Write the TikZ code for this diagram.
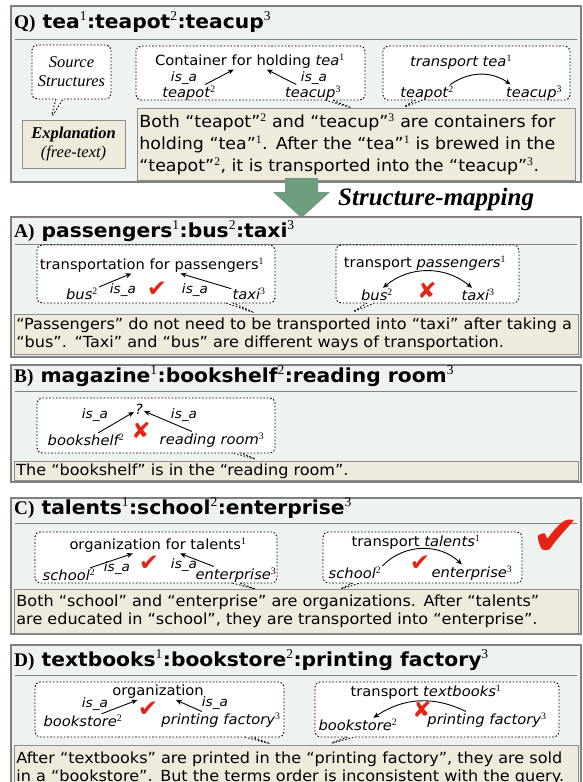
\documentclass[tikz,border=0pt]{standalone}
\usepackage{fontspec}
\setmainfont{DejaVu Sans}[FakeStretch=1.05]
\newfontfamily\serif{Liberation Serif}
\usepackage{tikz}
\usetikzlibrary{arrows.meta, shapes.callouts}
\definecolor{panelBg}{RGB}{239,243,239}
\definecolor{boxBg}{RGB}{238,234,220}
\definecolor{lineGray}{RGB}{128,128,128}
\definecolor{mapGreen}{RGB}{110,158,126}
\definecolor{markRed}{RGB}{232,35,22}
\newcommand{\sy}[1]{\textsuperscript{\serif\mdseries\upshape #1}}
\newcommand{\isa}{is\_a}
\tikzset{
  panel/.style={draw=lineGray, line width=1.3pt, fill=panelBg},
  sepline/.style={draw=lineGray, line width=0.9pt},
  title/.style={anchor=base west, inner sep=0pt, font=\fontsize{19.3}{22}\selectfont\bfseries},
  bubble/.style={rectangle callout, draw, dash pattern=on 1.6pt off 1.8pt, line width=0.9pt, rounded corners=5pt, fill=white, callout pointer width=7pt},
  expbox/.style={draw=lineGray!90, line width=0.8pt, fill=boxBg, anchor=north west, align=left, inner xsep=2pt, inner ysep=2pt, text width=560pt, font=\fontsize{15.3}{17.5}\selectfont},
  term/.style={inner sep=1pt, font=\fontsize{14}{16}\selectfont\itshape},
  concept/.style={inner sep=1pt, font=\fontsize{14}{16}\selectfont},
  isa/.style={inner sep=0pt, font=\fontsize{13}{15}\selectfont\itshape},
  rel/.style={-{Stealth[length=6pt,width=5pt]}, line width=0.9pt},
  okmark/.style={text=markRed, inner sep=0pt, font=\fontsize{23}{23}\selectfont},
  nomark/.style={text=markRed, inner sep=0pt, font=\fontsize{22}{22}\selectfont}
}

\begin{document}
\begin{tikzpicture}[x=1pt, y=-1pt]
\useasboundingbox (0,0) rectangle (583,782);

\path[panel] (11,6) rectangle (581,182);
\node[title] (qT) at (14,28) {{\serif Q)} tea\sy1:teapot\sy2:teacup\sy3};
\draw[sepline] (15,39) -- (577,39);
\node[bubble, minimum width=79pt, minimum height=54pt, callout absolute pointer={(51,118)}, align=center, font=\serif\itshape\fontsize{16.5}{19}\selectfont] (src) at (71.5,72) {Source\\Structures};
\node[draw=lineGray!90, line width=0.8pt, fill=boxBg, minimum width=103pt, minimum height=48pt, align=center, font=\serif\itshape\fontsize{16.5}{19}\selectfont] (expl) at (73.5,144) {\textbf{Explanation}\\(free-text)};
\node[bubble, minimum width=229pt, minimum height=54pt, callout absolute pointer={(352,108)}] (qB1) at (250.5,73) {};
\node[concept] (qC) at (250,61) {Container for holding \textit{tea}\sy1};
\node[term] (qTp) at (189,93) {teapot\sy2};
\node[term] (qTc) at (313,93) {teacup\sy3};
\node[isa] (qI1) at (184,78) {\isa};
\node[isa] (qI2) at (314,78) {\isa};
\draw[rel] (qTp) -- (qC);
\draw[rel] (qTc) -- (qC);
\node[bubble, minimum width=187pt, minimum height=54pt, callout absolute pointer={(402,108)}] (qB2) at (476.5,73) {};
\node[concept, font=\fontsize{14}{16}\selectfont\itshape] (qTr) at (461,62) {transport tea\sy1};
\node[term] (qTp2) at (427,93) {teapot\sy2};
\node[term] (qTc2) at (534,93) {teacup\sy3};
\draw[rel] (qTp2.20) to[bend left=35] (qTc2.160);
\node[expbox, text width=434pt, font=\fontsize{16.6}{22}\selectfont, minimum height=72pt] (qE) at (137,108) {Both “teapot”\sy2 and “teacup”\sy3 are containers for\\holding “tea”\sy1. After the “tea”\sy1 is brewed in the\\“teapot”\sy2, it is transported into the “teacup”\sy3.};

\fill[mapGreen] (285,178) -- (318,178) -- (318,192) -- (330,192) -- (301.5,218) -- (273,192) -- (285,192) -- cycle;
\node[anchor=west, inner sep=0pt, font=\serif\bfseries\itshape\fontsize{25}{28}\selectfont] (smap) at (338,199) {Structure-mapping};

\path[panel] (11,217) rectangle (581,357);
\node[title] (aT) at (14,237) {{\serif A)} passengers\sy1:bus\sy2:taxi\sy3};
\draw[sepline] (15,244) -- (577,244);
\node[bubble, minimum width=238pt, minimum height=58pt, callout absolute pointer={(255,313)}] (aB1) at (156,274) {};
\node[concept] (aC) at (152,265) {transportation for passengers\sy1};
\node[term] (aB) at (82,294) {bus\sy2};
\node[term] (aX) at (249,294) {taxi\sy3};
\node[isa] (aI1) at (123,290) {\isa};
\node[isa] (aI2) at (195,290) {\isa};
\node[okmark] (aOk) at (157,289) {✔};
\draw[rel] (aB) -- (aC);
\draw[rel] (aX) -- (aC);
\node[bubble, minimum width=183pt, minimum height=58pt, callout absolute pointer={(351,313)}] (aB2) at (427.5,274) {};
\node[concept] (aTr) at (425,263) {transport \textit{passengers}\sy1};
\node[term] (aBs) at (377,295) {bus\sy2};
\node[term] (aTx) at (478,295) {taxi\sy3};
\draw[{Stealth[length=6pt,width=5pt]}-{Stealth[length=6pt,width=5pt]}, line width=0.9pt] (aBs.50) to[bend left=40] (aTx.130);
\node[nomark] (aNo) at (427,290) {✘};
\node[expbox, minimum height=40pt] (aE) at (14,314) {“Passengers” do not need to be transported into “taxi” after taking a\\“bus”. “Taxi” and “bus” are different ways of transportation.};

\path[panel] (11,365) rectangle (581,482);
\node[title] (bT) at (14,382) {{\serif B)} magazine\sy1:bookshelf\sy2:reading room\sy3};
\draw[sepline] (15,391) -- (577,391);
\node[bubble, minimum width=238pt, minimum height=55pt, callout absolute pointer={(258,460)}] (bB1) at (156,425.5) {};
\node[concept, font=\fontsize{14}{16}\selectfont\itshape] (bQ) at (139,409) {?};
\node[term] (bBs) at (86,440) {bookshelf\sy2};
\node[term] (bRr) at (212,440) {reading room\sy3};
\node[isa] (bI1) at (95,415) {\isa};
\node[isa] (bI2) at (184,415) {\isa};
\draw[rel] (bBs) -- (bQ);
\draw[rel] (bRr) -- (bQ);
\node[nomark] (bNo) at (141,430) {✘};
\node[expbox, minimum height=18pt] (bE) at (14,461) {The “bookshelf” is in the “reading room”.};

\path[panel] (11,498) rectangle (581,634);
\node[title] (cT) at (14,514) {{\serif C)} talents\sy1:school\sy2:enterprise\sy3};
\draw[sepline] (15,523) -- (577,523);
\node[bubble, minimum width=242pt, minimum height=51pt, callout absolute pointer={(258,590)}] (cB1) at (156,557.5) {};
\node[concept] (cC) at (158,545) {organization for talents\sy1};
\node[term] (cS) at (69,575) {school\sy2};
\node[term] (cE) at (236,575) {enterprise\sy3};
\node[isa] (cI1) at (117,568) {\isa};
\node[isa] (cI2) at (184,565) {\isa};
\node[okmark] (cOk) at (149,563) {✔};
\draw[rel] (cS) -- (cC);
\draw[rel] (cE) -- (cC);
\node[bubble, minimum width=199pt, minimum height=51pt, callout absolute pointer={(338,590)}] (cB2) at (422.5,557.5) {};
\node[concept] (cTr) at (416,542) {transport \textit{talents}\sy1};
\node[term] (cS2) at (355,573) {school\sy2};
\node[term] (cE2) at (472,573) {enterprise\sy3};
\draw[rel] (cS2.north east) to[bend left=45] (cE2.140);
\node[okmark] (cOk2) at (420,563) {✔};
\node[okmark, font=\fontsize{56}{56}\selectfont] (cBig) at (556,538) {✔};
\node[expbox, minimum height=44pt] (cE3) at (14,589) {Both “school” and “enterprise” are organizations. After “talents”\\are educated in “school”, they are transported into “enterprise”.};

\path[panel] (11,645) rectangle (581,800);
\node[title] (dT) at (14,666) {{\serif D)} textbooks\sy1:bookstore\sy2:printing factory\sy3};
\draw[sepline] (15,675) -- (577,675);
\node[bubble, minimum width=249pt, minimum height=55pt, callout absolute pointer={(271,744)}] (dB1) at (159.5,709.5) {};
\node[concept] (dC) at (158,692) {organization};
\node[term] (dBs) at (83,721) {bookstore\sy2};
\node[term] (dPf) at (221,720) {printing factory\sy3};
\node[isa] (dI1) at (95,704) {\isa};
\node[isa] (dI2) at (215,703) {\isa};
\node[okmark] (dOk) at (148,709) {✔};
\draw[rel] (dBs) -- (dC);
\draw[rel] (dPf) -- (dC);
\node[bubble, minimum width=244pt, minimum height=55pt, callout absolute pointer={(329,744)}] (dB2) at (437,709.5) {};
\node[concept] (dTr) at (426,692) {transport \textit{textbooks}\sy1};
\node[term] (dBs2) at (358,725) {bookstore\sy2};
\node[term] (dPf2) at (487,720) {printing factory\sy3};
\draw[rel] (dPf2.158) to[bend right=30] (dBs2.25);
\node[nomark] (dNo) at (422,709) {✘};
\node[expbox, minimum height=46pt] (dE) at (14,745) {After “textbooks” are printed in the “printing factory”, they are sold\\in a “bookstore”. But the terms order is inconsistent with the query.};
\end{tikzpicture}
\end{document}
